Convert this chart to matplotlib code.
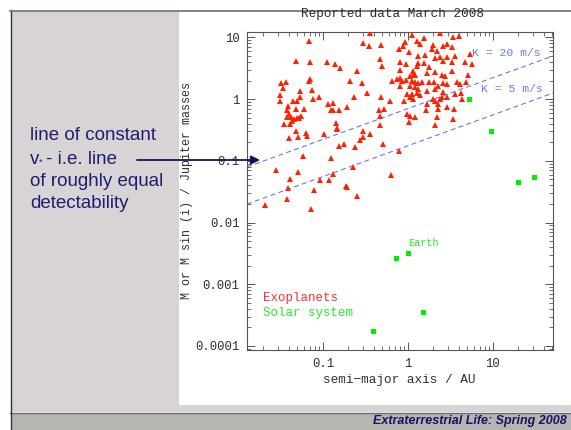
import numpy as np
import matplotlib
matplotlib.use('Agg')
import matplotlib.pyplot as plt
from matplotlib.patches import Rectangle, FancyArrowPatch
from matplotlib.lines import Line2D
from matplotlib.ticker import FixedLocator, FixedFormatter, LogLocator, NullFormatter

# ---------------- data ----------------
exo_a = [
    # short period group
    0.0685, 0.0478, 0.0697, 0.112, 0.138, 0.158, 0.0703, 0.0688, 0.0318, 0.0371,
    0.0343, 0.0532, 0.075, 0.031, 0.0313, 0.0445, 0.05, 0.0532, 0.0769, 0.0912,
    0.114, 0.132, 0.123, 0.132, 0.154, 0.193, 0.0392, 0.0375, 0.0478, 0.0598,
    0.0399, 0.0382, 0.0425, 0.0457, 0.0491, 0.0523, 0.0557, 0.0437, 0.0349, 0.041,
    0.141, 0.145,
    # 0.2 - 3 AU group
    0.362, 0.297, 0.346, 0.483, 0.466, 0.496, 0.252, 0.207, 0.289, 0.231,
    0.331, 0.483, 0.621, 0.453, 0.519, 0.474, 0.474, 1.11, 1.27, 1.53,
    1.40, 0.93, 0.87, 0.78, 1.02, 1.30, 1.60, 2.0, 1.91, 2.19,
    2.62, 2.86, 2.09, 2.62, 2.39, 2.86, 0.81, 0.955, 1.33, 1.53,
    1.75, 1.27, 1.16, 0.81, 1.15, 1.06, 1.22, 1.67, 2.09, 2.50,
    2.74, 0.65, 0.74, 0.81, 0.85, 0.955, 1.11, 1.22, 1.33, 1.46,
    1.75, 2.04, 2.29, 2.62, 2.86, 0.81, 1.05, 1.22, 1.33, 1.67,
    2.09, 2.62, 0.97, 1.11, 1.27, 1.40, 1.06, 1.16, 0.89, 2.0,
    2.09, 2.39, 2.50, 2.86, 1.67, 2.29, 2.86, 1.64, 2.29, 2.19,
    0.97, 1.06, 1.22, 1.02, 2.09, 2.39,
    # 3 - 6 AU
    3.43, 4.03, 3.28, 3.59, 5.38, 4.70, 5.62, 3.28, 3.28, 5.14,
    3.75, 4.11, 4.83, 4.18, 3.59, 4.30, 3.49, 3.43,
    # lower left
    0.0479, 0.040, 0.051, 0.0627, 0.0655, 0.103, 0.145, 0.154, 0.176, 0.058,
    0.123, 0.0279, 0.0514, 0.0407, 0.0922, 0.1175, 0.13, 0.1876, 0.0385, 0.0785,
    0.0375, 0.0209, 0.073,
    # lower middle
    0.297, 0.362, 0.297, 0.272, 0.237, 0.509, 0.778, 0.227, 0.632, 0.193,
    0.252,
]
exo_m = [
    8.9, 4.2, 3.97, 3.97, 3.73, 3.18, 2.13, 2.0, 1.84, 1.93,
    1.52, 1.35, 1.43, 1.17, 0.95, 0.95, 0.95, 1.08, 0.99, 1.10,
    0.84, 0.87, 0.66, 0.66, 0.66, 0.74, 0.77, 0.66, 0.70, 0.70,
    0.58, 0.52, 0.51, 0.48, 0.49, 0.49, 0.53, 0.435, 0.40, 0.40,
    0.41, 0.34,
    11.8, 8.2, 7.4, 7.6, 4.4, 3.42, 2.91, 1.96, 1.84, 1.10,
    1.25, 1.10, 0.92, 0.67, 0.70, 0.53, 0.375, 11.0, 8.9, 9.7,
    7.9, 8.6, 7.2, 6.4, 5.8, 4.97, 5.2, 7.6, 6.4, 6.1,
    7.4, 7.9, 4.6, 4.2, 4.8, 4.8, 3.97, 3.73, 3.87, 3.87,
    3.3, 3.42, 2.91, 3.0, 2.42, 2.36, 2.48, 2.67, 2.74, 2.42,
    2.36, 2.0, 2.13, 2.19, 2.0, 2.08, 2.0, 1.88, 1.84, 1.93,
    1.88, 1.88, 1.66, 1.84, 1.77, 1.62, 1.62, 1.56, 1.47, 1.35,
    1.47, 1.30, 1.22, 1.22, 1.27, 1.15, 1.08, 1.01, 0.95, 1.01,
    0.95, 1.01, 1.08, 1.08, 0.84, 0.84, 0.74, 0.67, 0.68, 0.51,
    0.58, 0.53, 0.52, 0.42, 0.375, 11.8,
    10.1, 10.7, 6.9, 5.1, 5.4, 3.97, 3.73, 3.97, 2.91, 2.48,
    1.93, 1.77, 1.93, 1.25, 1.22, 0.99, 0.70, 0.48,
    0.303, 0.231, 0.243, 0.285, 0.255, 0.268, 0.33, 0.173, 0.185, 0.119,
    0.112, 0.0708, 0.0658, 0.050, 0.0489, 0.0489, 0.0603, 0.0391, 0.0367, 0.0337,
    0.0244, 0.0192, 0.0168,
    0.303, 0.268, 0.243, 0.217, 0.169, 0.191, 0.144, 0.081, 0.059, 0.0376,
    0.027,
]

sol_names = ['Mercury', 'Venus', 'Earth', 'Mars', 'Jupiter', 'Saturn', 'Uranus', 'Neptune']
sol_a = [0.387, 0.72, 1.0, 1.52, 5.2, 9.6, 19.5, 30.3]
sol_m = [0.000178, 0.00265, 0.00318, 0.00035, 1.0, 0.30, 0.046, 0.054]

k_values = [20, 5]            # m/s
k_texts = ['K = 20 m/s', 'K = 5 m/s']
K_JUP_1AU = 28.43             # m/s, Jupiter mass at 1 AU

xticks = [0.1, 1, 10]
xticklabels = ['0.1', '1', '10']
yticks = [0.0001, 0.001, 0.01, 0.1, 1, 10]
yticklabels = ['0.0001', '0.001', '0.01', '0.1', '1', '10']

# ---------------- figure ----------------
W, H = 571, 430
fig = plt.figure(figsize=(W / 100, H / 100), dpi=100)
fig.patch.set_facecolor('white')

def fx(px):
    return px / W

def fy(py):
    return 1 - py / H

# slide background (below the axes)
fig.add_artist(Rectangle((fx(11), fy(412)), fx(571) - fx(11), fy(11) - fy(412),
                         transform=fig.transFigure, facecolor='#d8d4d5', edgecolor='none', zorder=-3))
fig.add_artist(Rectangle((fx(179), fy(405)), fx(571) - fx(179), fy(12) - fy(405),
                         transform=fig.transFigure, facecolor='white', edgecolor='none', zorder=-2))
fig.add_artist(Rectangle((fx(11), fy(430)), fx(571) - fx(11), fy(413) - fy(430),
                         transform=fig.transFigure, facecolor='#b5b5b1', edgecolor='none', zorder=-2))
fig.add_artist(Line2D([fx(10), fx(571)], [fy(10.5), fy(10.5)], transform=fig.transFigure,
                      color='#7a7a7a', lw=1.3, zorder=3))
fig.add_artist(Line2D([fx(10), fx(571)], [fy(412.5), fy(412.5)], transform=fig.transFigure,
                      color='#6a6a6a', lw=1.0, zorder=-1))
fig.add_artist(Line2D([fx(10.5), fx(10.5)], [fy(10), fy(430)], transform=fig.transFigure,
                      color='#303030', lw=1.0, zorder=-1))

# axes
ax = fig.add_axes([fx(247), fy(350), fx(553) - fx(247), fy(31.7) - fy(350)])
ax.set_zorder(1)
ax.set_facecolor('white')
ax.set_xscale('log')
ax.set_yscale('log')
ax.set_xlim(0.0128, 51)
ax.set_ylim(8.6e-5, 12.4)

mono = 'Liberation Mono'
red = '#ff2200'
green = '#00ee00'
blue = '#6676ff'
dark = '#2e2e2e'

# K lines
a_line = np.logspace(np.log10(0.0128), np.log10(51), 100)
for k in k_values:
    ax.plot(a_line, k / K_JUP_1AU * np.sqrt(a_line), ls=(0, (4.5, 3)), color=blue, lw=0.8, zorder=2)

ax.plot(exo_a, exo_m, ls='none', marker='^', ms=4.8, color=red, mec=red, mew=0, zorder=3)
ax.plot(sol_a, sol_m, ls='none', marker='s', ms=3.6, color=green, mec=green, mew=0, zorder=3)

# annotations
ax.text(0.736, 0.933, k_texts[0], transform=ax.transAxes, color=blue, fontsize=8.2,
        family=mono, ha='left', va='center')
ax.text(0.765, 0.820, k_texts[1], transform=ax.transAxes, color=blue, fontsize=8.2,
        family=mono, ha='left', va='center')
ax.text(sol_a[2], 0.0046, 'Earth', color='#22ee22', fontsize=7.4, family=mono,
        ha='left', va='center')
ax.text(0.052, 0.163, 'Exoplanets', transform=ax.transAxes, color='#ff3030', fontsize=9.0,
        family=mono, ha='left', va='center')
ax.text(0.052, 0.116, 'Solar system', transform=ax.transAxes, color='#22ee22', fontsize=9.0,
        family=mono, ha='left', va='center')
fig.text(fx(392.5), fy(14.5), 'Reported data March 2008', color=dark,
         fontsize=9.1, family=mono, ha='center', va='center', zorder=4)

# ticks
ax.xaxis.set_major_locator(FixedLocator(xticks))
ax.xaxis.set_major_formatter(FixedFormatter(xticklabels))
ax.yaxis.set_major_locator(FixedLocator(yticks))
ax.yaxis.set_major_formatter(FixedFormatter(yticklabels))
ax.xaxis.set_minor_locator(LogLocator(base=10, subs=np.arange(2, 10), numticks=20))
ax.yaxis.set_minor_locator(LogLocator(base=10, subs=np.arange(2, 10), numticks=20))
ax.xaxis.set_minor_formatter(NullFormatter())
ax.yaxis.set_minor_formatter(NullFormatter())
ax.tick_params(which='both', direction='in', top=True, right=True, colors='#555555',
               labelcolor=dark, labelsize=8.8)
ax.tick_params(which='major', length=5.5, width=0.7, pad=5.5)
ax.tick_params(which='minor', length=2.7, width=0.6)
for lab in ax.get_xticklabels() + ax.get_yticklabels():
    lab.set_family(mono)
for s in ax.spines.values():
    s.set_color('#555555')
    s.set_linewidth(0.8)

ax.set_xlabel('semi\u2212major axis / AU', family=mono, fontsize=9.2, color=dark)
ax.xaxis.label.set_va('center')
ax.xaxis.set_label_coords(0.497, -0.094)
ax.set_ylabel('M or M sin (i) / Jupiter masses', family=mono, fontsize=8.4, color=dark)
ax.yaxis.label.set_va('center')
ax.yaxis.set_label_coords(-0.196, 0.5)

# slide text
navy = '#1e1e6e'
ys = [136, 159, 182, 204]
sans = 'Liberation Sans'
fs = 13.5
fig.text(fx(30), fy(ys[0]), 'line of constant', color=navy, fontsize=fs, family=sans,
         ha='left', va='center', zorder=5)
fig.text(fx(30), fy(ys[1]), 'v', color=navy, fontsize=fs, family=sans,
         ha='left', va='center', zorder=5)
fig.text(fx(38.5), fy(ys[1] + 3.5), '*', color=navy, fontsize=6.5, family=sans,
         ha='left', va='center', zorder=5)
fig.text(fx(46.5), fy(ys[1]), '- i.e. line', color=navy, fontsize=fs, family=sans,
         ha='left', va='center', zorder=5)
fig.text(fx(30), fy(ys[2]), 'of roughly equal', color=navy, fontsize=fs, family=sans,
         ha='left', va='center', zorder=5)
fig.text(fx(30), fy(ys[3]), 'detectability', color=navy, fontsize=fs, family=sans,
         ha='left', va='center', zorder=5)
fig.add_artist(FancyArrowPatch((fx(137), fy(160)), (fx(260), fy(160)),
                               transform=fig.transFigure, arrowstyle='-|>',
                               mutation_scale=13, color='#141452', lw=1.3,
                               shrinkA=0, shrinkB=0, zorder=5))
fig.text(fx(567), fy(421), 'Extraterrestrial Life: Spring 2008', color='#141460',
         fontsize=9, family=sans, weight='bold', style='italic',
         ha='right', va='center', zorder=5)

fig.savefig('out.png', dpi=100, facecolor='white')
